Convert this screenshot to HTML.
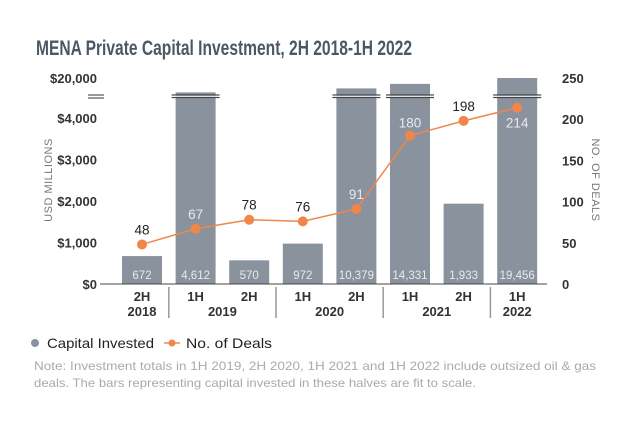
<!DOCTYPE html>
<html><head><meta charset="utf-8"><style>
body{margin:0;background:#fff;width:617px;height:424px;overflow:hidden;font-family:"Liberation Sans",sans-serif}
</style></head><body>
<svg width="617" height="424" style="position:absolute;left:0;top:0">
<text x="36" y="55" font-family="Liberation Sans Narrow, Liberation Sans, sans-serif" font-weight="bold" font-size="21" fill="#4d5866" textLength="376" lengthAdjust="spacingAndGlyphs">MENA Private Capital Investment, 2H 2018-1H 2022</text>
<g id="plot"></g>
<text transform="translate(52,180) rotate(-90)" text-anchor="middle" font-size="11" fill="#777" letter-spacing="0.5">USD MILLIONS</text>
<text transform="translate(592,180) rotate(90)" text-anchor="middle" font-size="11" fill="#777" letter-spacing="0.5">NO. OF DEALS</text>
<g>
<circle cx="35" cy="343" r="4" fill="#8a929d"/>
<text x="47" y="348" font-size="14" fill="#222" textLength="107" lengthAdjust="spacingAndGlyphs">Capital Invested</text>
<line x1="164" y1="343" x2="180" y2="343" stroke="#f0864a" stroke-width="1.5"/>
<circle cx="172" cy="343" r="3.5" fill="#f0864a"/>
<text x="186" y="348" font-size="14" fill="#222" textLength="86" lengthAdjust="spacingAndGlyphs">No. of Deals</text>
</g>
<text x="34" y="370" font-size="12" fill="#aaa" textLength="562" lengthAdjust="spacingAndGlyphs">Note: Investment totals in 1H 2019, 2H 2020, 1H 2021 and 1H 2022 include outsized oil &amp; gas</text>
<text x="34" y="387" font-size="12" fill="#aaa" textLength="442" lengthAdjust="spacingAndGlyphs">deals. The bars representing capital invested in these halves are fit to scale.</text>
</svg>
<script>
const halves=["2H","1H","2H","1H","2H","1H","2H","1H"];
const years=["2018","2019","2020","2021","2022"];
const yearSpans=[1,2,2,2,1];
const capital=[672,4612,570,972,10379,14331,1933,19456];
const deals=[48,67,78,76,91,180,198,214];
const leftTicks=[0,1000,2000,3000,4000];
const leftTickLabels=["$0","$1,000","$2,000","$3,000","$4,000"];
const rightTicks=[0,50,100,150,200,250];
const NS="http://www.w3.org/2000/svg";
const g=document.getElementById('plot');
const base=284;
function x(i){return 142+i*53.6;}
function yL(v){
  if(v<=4612) return base-v*0.04155;
  return 95-(v-4612)/(19456-4612)*17;
}
function yR(v){return base-v*0.824;}
function mk(t,a,txt){const e=document.createElementNS(NS,t);for(const k in a)e.setAttribute(k,a[k]);if(txt!==undefined)e.textContent=txt;g.appendChild(e);return e;}
capital.forEach((v,i)=>{
  const top=yL(v);
  const b=mk('rect',{x:x(i)-20,y:top,width:40,height:base-top,fill:'#8a929d'});
  
  
  if(v>4612||i===1){
    for(const yy of [95,97.5]){mk('line',{x1:x(i)-24,x2:x(i)+24,y1:yy,y2:yy,stroke:'#444','stroke-width':1.2});}
    mk('line',{x1:x(i)-24,x2:x(i)+24,y1:96.3,y2:96.3,stroke:'#fff','stroke-width':1});
  }
  const t=mk('text',{x:x(i),y:279,'text-anchor':'middle','font-size':11.5,fill:'#e8eaee'},v.toLocaleString('en-US'));
  
  
});
mk('line',{x1:88,x2:104,y1:95,y2:95,stroke:'#555','stroke-width':1.2});
mk('line',{x1:88,x2:104,y1:98,y2:98,stroke:'#555','stroke-width':1.2});
const ax=mk('line',{x1:100,x2:547,y1:base,y2:base,stroke:'#444','stroke-width':1});


const tf={'font-size':13,'font-family':'Liberation Sans Narrow, Liberation Sans, sans-serif','font-weight':'bold',fill:'#333'};
leftTicks.forEach((v,i)=>{
  const t=mk('text',Object.assign({x:97,y:yL(v)+5,'text-anchor':'end'},tf),leftTickLabels[i]);
  
  
});
const t20=mk('text',Object.assign({x:97,y:83,'text-anchor':'end'},tf),'$20,000');


rightTicks.forEach(v=>{
  const t=mk('text',Object.assign({x:562,y:yR(v)+5},tf),String(v));
  
  
});
halves.forEach((h,i)=>{
  const t=mk('text',Object.assign({x:x(i),y:301,'text-anchor':'middle'},tf),h);
  
  
});
let idx=0;
years.forEach((yv,k)=>{
  const s=yearSpans[k];
  const cx=(x(idx)+x(idx+s-1))/2;
  const t=mk('text',Object.assign({x:cx,y:316,'text-anchor':'middle'},tf),yv);
  
  
  idx+=s;
  if(k<years.length-1){mk('line',{x1:x(idx)-26.8,x2:x(idx)-26.8,y1:287,y2:318,stroke:'#999','stroke-width':1.5});}
});
const pts=deals.map((d,i)=>x(i)+','+yR(d)).join(' ');
const pl=mk('polyline',{points:pts,fill:'none',stroke:'#f0864a','stroke-width':1.5});


deals.forEach((d,i)=>{
  const c=mk('circle',{cx:x(i),cy:yR(d),r:5,fill:'#f0864a'});
  
  
  const inBar=yL(capital[i])<yR(d)-20;
  const ly=(i===5)?yR(d)-8:yR(d)-10;
  const t=mk('text',{x:x(i),y:i===7?yR(d)+20:ly,'text-anchor':'middle','font-size':13.5,fill:inBar?'#e8eaee':'#222'},String(d));
  
  
});
</script>
</body></html>
